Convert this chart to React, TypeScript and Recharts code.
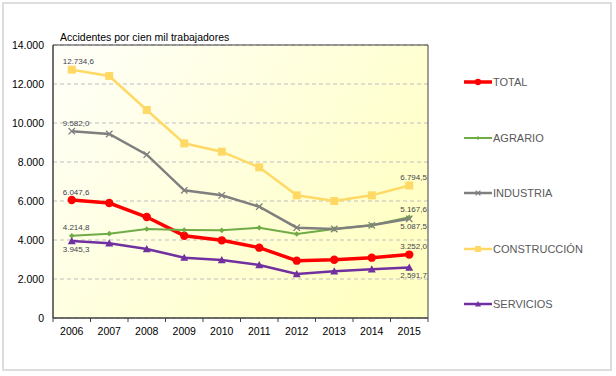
import React from 'react';
import { LineChart, Line, XAxis, YAxis, CartesianGrid, Legend, LabelList, ReferenceArea } from 'recharts';

const years = ['2006', '2007', '2008', '2009', '2010', '2011', '2012', '2013', '2014', '2015'];
const total = [6047.6, 5897, 5179, 4221, 3983, 3607, 2940, 2991, 3094, 3252.0];
const agrario = [4214.8, 4325, 4564, 4513, 4496, 4632, 4308, 4564, 4752, 5167.6];
const industria = [9582.0, 9436, 8374, 6549, 6292, 5708, 4632, 4564, 4752, 5087.5];
const construccion = [12734.6, 12410, 10667, 8957, 8530, 7726, 6290, 6000, 6290, 6794.5];
const servicios = [3945.3, 3829, 3538, 3094, 2974, 2718, 2256, 2393, 2496, 2591.7];
const yTicks = [0, 2000, 4000, 6000, 8000, 10000, 12000, 14000];

type Shape = 'circle' | 'diamond' | 'cross' | 'square' | 'triangle';

const series: {
  key: string;
  color: string;
  width: number;
  shape: Shape;
  size: number;
  labels: ['up' | 'down', 'up' | 'down'];
}[] = [
  { key: 'TOTAL', color: '#FF0000', width: 3.5, shape: 'circle', size: 4.2, labels: ['up', 'up'] },
  { key: 'AGRARIO', color: '#6FAC46', width: 2, shape: 'diamond', size: 2.8, labels: ['up', 'up'] },
  { key: 'INDUSTRIA', color: '#7F7F7F', width: 2.5, shape: 'cross', size: 3.2, labels: ['up', 'down'] },
  { key: 'CONSTRUCCIÓN', color: '#FFD966', width: 2.5, shape: 'square', size: 4, labels: ['up', 'up'] },
  { key: 'SERVICIOS', color: '#7030A0', width: 2.5, shape: 'triangle', size: 4, labels: ['down', 'down'] },
];

const values: Record<string, number[]> = {
  TOTAL: total,
  AGRARIO: agrario,
  INDUSTRIA: industria,
  'CONSTRUCCIÓN': construccion,
  SERVICIOS: servicios,
};

const chartData = years.map((year, i) => {
  const row: Record<string, string | number> = { year };
  series.forEach((s) => (row[s.key] = values[s.key][i]));
  return row;
});

const font = '"Liberation Sans", Arial, sans-serif';

function fmt(v: number, decimals = 0) {
  const [int, dec] = v.toFixed(decimals).split('.');
  const grouped = int.replace(/\B(?=(\d{3})+(?!\d))/g, '.');
  return dec ? `${grouped},${dec}` : grouped;
}

function Marker({ shape, cx, cy, color, size }: { shape: Shape; cx: number; cy: number; color: string; size: number }) {
  switch (shape) {
    case 'circle':
      return <circle cx={cx} cy={cy} r={size} fill={color} />;
    case 'diamond':
      return (
        <polygon
          points={`${cx},${cy - size} ${cx + size},${cy} ${cx},${cy + size} ${cx - size},${cy}`}
          fill={color}
        />
      );
    case 'cross':
      return (
        <g stroke={color} strokeWidth={1.3}>
          <line x1={cx - size} y1={cy - size} x2={cx + size} y2={cy + size} />
          <line x1={cx - size} y1={cy + size} x2={cx + size} y2={cy - size} />
        </g>
      );
    case 'square':
      return <rect x={cx - size} y={cy - size} width={size * 2} height={size * 2} fill={color} />;
    case 'triangle':
      return (
        <polygon
          points={`${cx},${cy - size} ${cx + size},${cy + size * 0.8} ${cx - size},${cy + size * 0.8}`}
          fill={color}
        />
      );
  }
}

const endLabel = (places: ['up' | 'down', 'up' | 'down']) => (props: any) => {
  const { x, y, value, index } = props;
  const last = years.length - 1;
  if (index !== 0 && index !== last) return null;
  const place = index === 0 ? places[0] : places[1];
  return (
    <text
      x={x - 9}
      y={place === 'up' ? y - 8 : y + 8}
      dominantBaseline="central"
      fontSize={8}
      fontFamily={font}
      fill="#3F3F4F"
    >
      {fmt(Number(value), 1)}
    </text>
  );
};

const XTick = (props: any) => {
  const { x, y, payload, index } = props;
  const half = payload?.offset || 18.75;
  return (
    <g>
      <line x1={x - half} x2={x - half} y1={y} y2={y + 4} stroke="#404040" />
      {index === years.length - 1 && <line x1={x + half} x2={x + half} y1={y} y2={y + 4} stroke="#404040" />}
      <text x={x} y={y + 17} textAnchor="middle" fontSize={10.5} fontFamily={font} fill="#000">
        {payload.value}
      </text>
    </g>
  );
};

const renderLegend = () => (
  <div style={{ fontFamily: font }}>
    {series.map((s) => (
      <div key={s.key} style={{ height: 55.5, display: 'flex', alignItems: 'center' }}>
        <svg width={28} height={10} style={{ marginRight: 1 }}>
          <line x1={0} y1={5} x2={28} y2={5} stroke={s.color} strokeWidth={s.width} />
          <Marker shape={s.shape} cx={14} cy={5} color={s.color} size={s.size * 0.75} />
        </svg>
        <span style={{ fontSize: 11, color: '#595959' }}>{s.key}</span>
      </div>
    ))}
  </div>
);

export default function App() {
  return (
    <div style={{ position: 'absolute', left: 0, top: 0, width: 616, height: 376, background: '#fff' }}>
      <div
        style={{
          position: 'absolute',
          left: 2,
          top: 2,
          width: 606,
          height: 365,
          border: '2px solid #DDDDDD',
        }}
      />
      <div
        style={{
          position: 'absolute',
          left: 60,
          top: 31,
          fontFamily: font,
          fontSize: 10.5,
          lineHeight: '12px',
          color: '#000',
        }}
      >
        Accidentes por cien mil trabajadores
      </div>
      <LineChart width={616} height={376} data={chartData} margin={{ top: 45, right: 188, bottom: 28, left: 0 }}>
        <defs>
          <linearGradient id="plotBg" x1="0" y1="0" x2="1" y2="0.6">
            <stop offset="0%" stopColor="#FFFFFA" />
            <stop offset="100%" stopColor="#FFFFC4" />
          </linearGradient>
        </defs>
        <CartesianGrid
          vertical={false}
          stroke="#BFBFBF"
          strokeDasharray="4 3"
          fill="url(#plotBg)"
          fillOpacity={1}
        />
        <XAxis
          dataKey="year"
          scale="band"
          tickLine={false}
          tickSize={0}
          tickMargin={0}
          tick={<XTick />}
          axisLine={{ stroke: '#404040' }}
          interval={0}
        />
        <YAxis
          width={53}
          domain={[0, 14000]}
          ticks={yTicks}
          tickFormatter={(v) => fmt(v)}
          tickLine={false}
          tickSize={0}
          tickMargin={9}
          axisLine={{ stroke: '#404040' }}
          tick={{ fontSize: 10.5, fontFamily: font, fill: '#000' }}
        />
        <ReferenceArea
          x1={years[0]}
          x2={years[years.length - 1]}
          y1={0}
          y2={14000}
          fill="none"
          stroke="#404040"
          strokeWidth={1}
        />
        <Legend
          layout="horizontal"
          verticalAlign="middle"
          align="center"
          content={renderLegend}
          wrapperStyle={{ left: 464, top: 54.5, width: 150, height: 280 }}
        />
        {series.map((s) => (
          <Line
            key={s.key}
            dataKey={s.key}
            stroke={s.color}
            strokeWidth={s.width}
            isAnimationActive={false}
            dot={(p: any) => (
              <Marker key={`${s.key}-${p.index}`} shape={s.shape} cx={p.cx} cy={p.cy} color={s.color} size={s.size} />
            )}
            activeDot={false}
          >
            <LabelList dataKey={s.key} content={endLabel(s.labels)} />
          </Line>
        ))}
      </LineChart>
    </div>
  );
}
